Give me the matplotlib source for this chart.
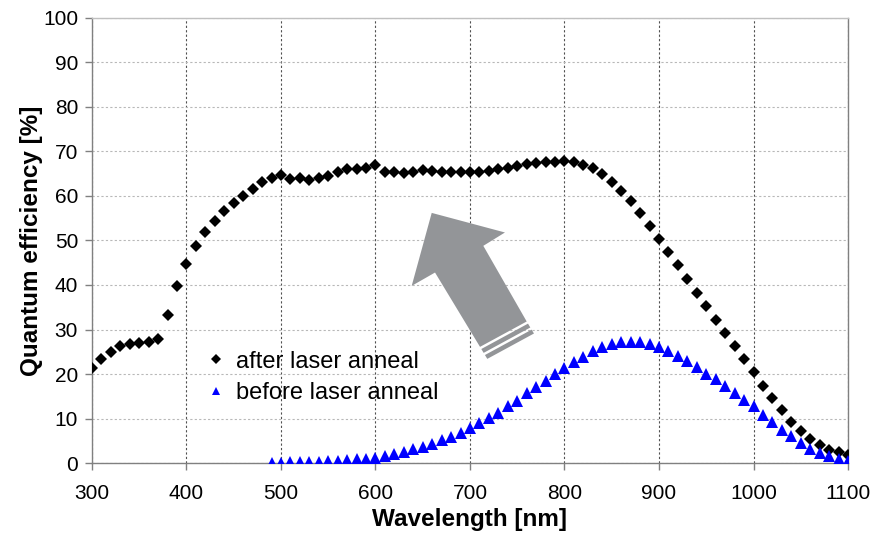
import numpy as np
import matplotlib
matplotlib.use("Agg")
import matplotlib.pyplot as plt
from matplotlib.patches import Polygon

plt.rcParams['font.family'] = ['Liberation Sans', 'DejaVu Sans']

# after laser anneal: 300..1100 nm, step 10
wl_after = np.arange(300, 1101, 10)
qe_after = [21.3, 23.4, 24.9, 26.2, 26.7, 27.0, 27.1, 27.9, 33.3, 39.7,
            44.7, 48.8, 51.8, 54.3, 56.6, 58.4, 60.0, 61.6, 63.2, 64.0,
            64.8, 63.8, 64.0, 63.7, 64.1, 64.6, 65.3, 66.0, 66.1, 66.3,
            66.9, 65.5, 65.4, 65.1, 65.4, 65.8, 65.6, 65.3, 65.3, 65.3,
            65.3, 65.4, 65.6, 66.0, 66.3, 66.7, 67.1, 67.3, 67.6, 67.7,
            67.9, 67.6, 67.0, 66.2, 64.9, 63.2, 61.1, 58.9, 56.1, 53.3,
            50.4, 47.5, 44.4, 41.4, 38.3, 35.3, 32.1, 29.2, 26.4, 23.3,
            20.5, 17.4, 14.7, 12.0, 9.2, 7.2, 5.3, 4.0, 2.9, 2.4,
            1.9]

# before laser anneal: 490..1100 nm, step 10
wl_before = np.arange(490, 1101, 10)
qe_before = [0.1, 0.1, 0.2, 0.2, 0.3, 0.3, 0.4, 0.5, 0.6, 0.8,
             0.9, 1.2, 1.6, 2.0, 2.5, 3.1, 3.7, 4.3, 5.1, 5.9,
             6.8, 7.9, 9.1, 10.1, 11.2, 12.8, 14.0, 15.7, 17.0, 18.5,
             20.0, 21.4, 22.7, 23.9, 25.1, 26.0, 26.7, 27.2, 27.3, 27.2,
             26.7, 26.0, 25.2, 24.0, 23.0, 21.6, 20.1, 18.9, 17.4, 15.8,
             14.2, 12.7, 10.8, 9.3, 7.4, 6.1, 4.4, 3.1, 2.2, 1.6,
             1.0, 0.5]

fig = plt.figure(figsize=(8.71, 5.33), dpi=100)
ax = fig.add_axes([0.1056, 0.1313, 0.868, 0.835])

ax.plot(wl_after, qe_after, 'D', color='black', markersize=6.6,
        markeredgewidth=0, label='after laser anneal', zorder=4)
ax.plot(wl_before, qe_before, '^', color='#0000ff', markersize=8.5,
        markeredgewidth=0, label='before laser anneal', zorder=4)

# big grey arrow (annotation)
tip = np.array([659.5, 56.2])
lb = np.array([638.3, 39.8])
ls = np.array([663.0, 42.8])
bl = np.array([710.6, 26.1])
br = np.array([760.0, 31.8])
rs = np.array([714.1, 48.8])
rb = np.array([737.0, 51.8])
grey = '#939598'
ax.add_patch(Polygon([tip, lb, ls, bl, br, rs, rb], closed=True,
                     facecolor=grey, edgecolor='none', zorder=3))
step = (bl - ls) / 86.6  # data units per pixel along the shaft
for a, b in [(2.5, 7.0), (9.5, 14.0)]:
    ax.add_patch(Polygon([bl + a * step, br + a * step,
                          br + b * step, bl + b * step], closed=True,
                         facecolor=grey, edgecolor='none', zorder=3))

ax.set_xlim(300, 1100)
ax.set_ylim(0, 100)
ax.set_xticks(np.arange(300, 1101, 100))
ax.set_yticks(np.arange(0, 101, 10))
ax.tick_params(labelsize=15, color='#808080', length=5, width=1)
ax.tick_params(axis='x', pad=10)
ax.tick_params(axis='y', pad=5)
ax.set_axisbelow(True)
ax.xaxis.grid(True, linestyle=(0, (2, 2)), color='#505050', linewidth=0.8)
ax.yaxis.grid(True, linestyle=(0, (2, 2)), color='#b8b8b8', linewidth=0.8)
for s in ax.spines.values():
    s.set_color('#808080')
    s.set_linewidth(1)
ax.spines['top'].set_color('#c0c0c0')

ax.set_xlabel('Wavelength [nm]', fontsize=17.5, fontweight='bold', labelpad=4)
ax.set_ylabel('Quantum efficiency [%]', fontsize=17.5, fontweight='bold', labelpad=0)

ax.legend(loc='upper left', bbox_to_anchor=(0.125, 0.3), frameon=False,
          fontsize=17, handlelength=0.7, handletextpad=0.5, labelspacing=0.4,
          markerscale=0.75)

fig.savefig('out.png', dpi=100)
